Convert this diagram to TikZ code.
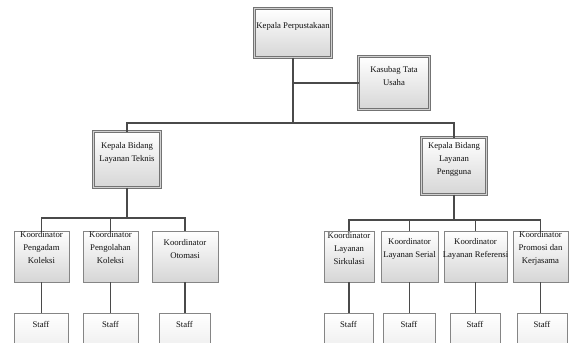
\documentclass[tikz,border=0pt]{standalone}
\usepackage{fontspec}
\setmainfont{Liberation Serif}
\usetikzlibrary{calc}
\definecolor{linec}{HTML}{4A4A4A}
\definecolor{boxline}{HTML}{858585}
\definecolor{boxbot}{HTML}{D6D6D6}
\definecolor{txtc}{HTML}{111111}
\tikzset{
  box/.style={rectangle, anchor=north west, inner sep=0pt, outer sep=0pt,
    top color=white, bottom color=boxbot, draw=boxline, line width=1pt},
  dbox/.style={box, draw=black!55, line width=0.8pt, double=black!18, double distance=1.3pt},
  staffbox/.style={box, top color=white, bottom color=black!8},
  txt/.style={align=center, inner sep=0pt, text=txtc,
    font=\fontsize{8.7}{13}\selectfont},
  conn/.style={draw=linec, line width=1.2pt}
}
\begin{document}
\begin{tikzpicture}[x=1pt,y=-1pt]
\useasboundingbox (0,0) rectangle (571,343);
\clip (0,0) rectangle (571,343);
\fill[white] (0,0) rectangle (571,343);

% top level
\node[dbox, minimum width=77pt, minimum height=49pt] (kp) at (254.5,8.5) {};
\node[dbox, minimum width=71pt, minimum height=53pt] (ks) at (358.5,56.5) {};
\node[dbox, minimum width=67pt, minimum height=56pt] (tk) at (93.5,131.5) {};
\node[dbox, minimum width=65pt, minimum height=57pt] (pg) at (421.5,137.5) {};

% coordinators
\node[box, minimum width=55pt, minimum height=51pt] (c1) at (14,231) {};
\node[box, minimum width=55pt, minimum height=51pt] (c2) at (83,231) {};
\node[box, minimum width=66pt, minimum height=51pt] (c3) at (152,231) {};
\node[box, minimum width=50pt, minimum height=51pt] (c4) at (324,231) {};
\node[box, minimum width=57pt, minimum height=51pt] (c5) at (381,231) {};
\node[box, minimum width=63pt, minimum height=51pt] (c6) at (444,231) {};
\node[box, minimum width=55pt, minimum height=51pt] (c7) at (513,231) {};

% staff
\node[staffbox, minimum width=54pt, minimum height=44pt] (s1) at (14,313) {};
\node[staffbox, minimum width=55pt, minimum height=44pt] (s2) at (83,313) {};
\node[staffbox, minimum width=51pt, minimum height=44pt] (s3) at (159,313) {};
\node[staffbox, minimum width=49pt, minimum height=44pt] (s4) at (324,313) {};
\node[staffbox, minimum width=52pt, minimum height=44pt] (s5) at (383,313) {};
\node[staffbox, minimum width=50pt, minimum height=44pt] (s6) at (450,313) {};
\node[staffbox, minimum width=50pt, minimum height=44pt] (s7) at (517,313) {};

% texts
\node[txt] (kpt) at ($(kp.north)+(0,18)$) {Kepala Perpustakaan};
\node[txt] (kst) at ($(ks.north)+(0,20)$) {Kasubag Tata\\Usaha};
\node[txt] (tkt) at ($(tk.north)+(0,21)$) {Kepala Bidang\\Layanan Teknis};
\node[txt] (pgt) at ($(pg.north)+(0,22)$) {Kepala Bidang\\Layanan\\Pengguna};
\node[txt] (c1t) at ($(c1.north)+(0,17)$) {Koordinator\\Pengadam\\Koleksi};
\node[txt] (c2t) at ($(c2.north)+(0,17)$) {Koordinator\\Pengolahan\\Koleksi};
\node[txt] (c3t) at ($(c3.north)+(0,18)$) {Koordinator\\Otomasi};
\node[txt] (c4t) at ($(c4.north)+(0,18)$) {Koordinator\\Layanan\\Sirkulasi};
\node[txt] (c5t) at ($(c5.north)+(0,18)$) {Koordinator\\Layanan Serial};
\node[txt] (c6t) at ($(c6.north)+(0,18)$) {Koordinator\\Layanan Referensi};
\node[txt] (c7t) at ($(c7.north)+(0,17)$) {Koordinator\\Promosi dan\\Kerjasama};
\foreach \s in {s1,s2,s3,s4,s5,s6,s7}
  \node[txt] (\s t) at ($(\s.north)+(0,11)$) {Staff};

% connectors
\coordinate (j0) at (293,123);
\coordinate (j1) at (126,218);
\coordinate (j2) at (454,220);
\draw[conn] (kp.south) -- (kp.south |- j0);
\draw[conn] (kp.south |- ks.west) -- (ks.west);
\draw[conn] (tk.north) -- (tk.north |- j0) -- (pg.north |- j0) -- (pg.north);
\draw[conn] (tk.south) -- (tk.south |- j1);
\draw[conn] (c1.north) -- (c1.north |- j1) -- (c3.north |- j1) -- (c3.north);
\draw[conn] (c2.north) -- (c2.north |- j1);
\draw[conn] (pg.south) -- (pg.south |- j2);
\draw[conn] (c4.north) -- (c4.north |- j2) -- (c7.north |- j2) -- (c7.north);
\draw[conn] (c5.north) -- (c5.north |- j2);
\draw[conn] (c6.north) -- (c6.north |- j2);
\draw[conn] (c1.south) -- (c1.south |- s1.north);
\draw[conn] (c2.south) -- (c2.south |- s2.north);
\draw[conn] (c3.south) -- (c3.south |- s3.north);
\draw[conn] (c4.south) -- (c4.south |- s4.north);
\draw[conn] (c5.south) -- (c5.south |- s5.north);
\draw[conn] (c6.south) -- (c6.south |- s6.north);
\draw[conn] (c7.south) -- (c7.south |- s7.north);
\end{tikzpicture}
\end{document}
